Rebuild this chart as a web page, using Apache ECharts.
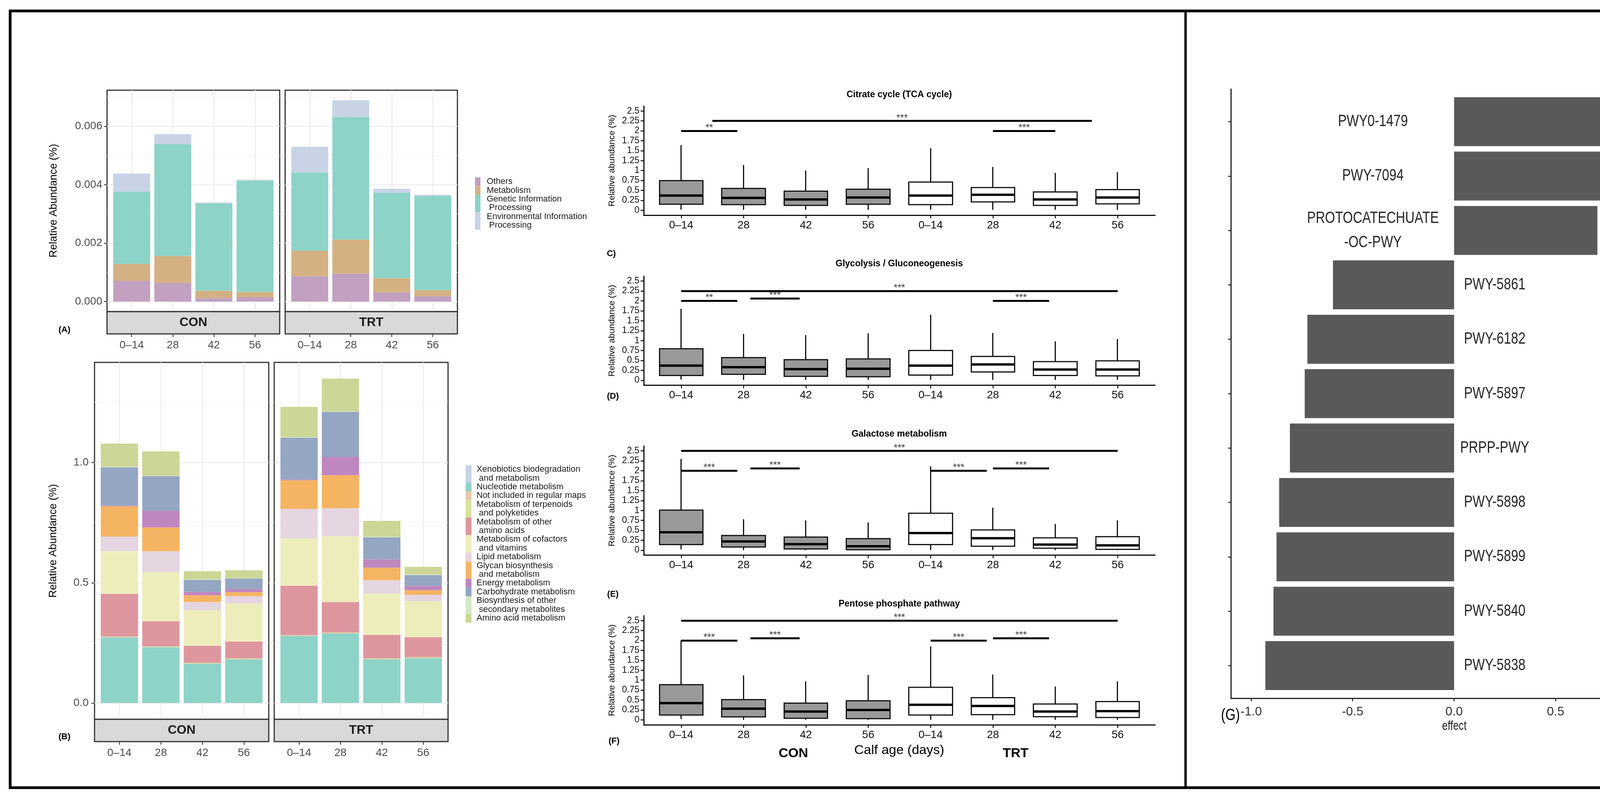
<!DOCTYPE html>
<html><head><meta charset="utf-8">
<script src="https://cdn.jsdelivr.net/npm/echarts@6/dist/echarts.min.js"></script>
<style>html,body{margin:0;padding:0;background:#fff}#c{width:4419px;height:2046px}</style>
</head><body><div id="c"></div>
<script>
// ================= DATA =================
const ageLabels = ['0–14', '28', '42', '56'];
const groupLabels = ['CON', 'TRT'];

// Panel A (values: CON 0-14,28,42,56 then TRT 0-14,28,42,56)
const aNames = ['Others', 'Metabolism', 'Genetic Information\n Processing', 'Environmental Information\n Processing'];
const aOthers        = [0.00071, 0.00064, 0.00012, 0.00015, 0.00086, 0.00096, 0.00031, 0.00018];
const aMetabolism    = [0.00058, 0.00092, 0.00025, 0.00018, 0.00088, 0.00116, 0.00049, 0.00021];
const aGenetic       = [0.00247, 0.00383, 0.00299, 0.00381, 0.00268, 0.00420, 0.00293, 0.00323];
const aEnvironmental = [0.00062, 0.00034, 0.00003, 0.00003, 0.00088, 0.00057, 0.00013, 0.00004];
const aYTicks = [0, 0.002, 0.004, 0.006];
const aYMinor = [0.001, 0.003, 0.005, 0.007];

// Panel B
const bNames = ['Xenobiotics biodegradation\n and metabolism', 'Nucleotide metabolism', 'Not included in regular maps',
  'Metabolism of terpenoids\n and polyketides', 'Metabolism of other\n amino acids', 'Metabolism of cofactors\n and vitamins',
  'Lipid metabolism', 'Glycan biosynthesis\n and metabolism', 'Energy metabolism', 'Carbohydrate metabolism',
  'Biosynthesis of other\n secondary metabolites', 'Amino acid metabolism'];
const bXenobiotics  = [0.001, 0.001, 0.001, 0.001, 0.001, 0.001, 0.001, 0.001];
const bNucleotide   = [0.272, 0.231, 0.163, 0.181, 0.277, 0.288, 0.181, 0.186];
const bNotIncluded  = [0.002, 0.002, 0.002, 0.002, 0.002, 0.002, 0.002, 0.002];
const bTerpenoids   = [0.002, 0.002, 0.002, 0.002, 0.002, 0.002, 0.002, 0.002];
const bOtherAmino   = [0.177, 0.104, 0.070, 0.070, 0.206, 0.127, 0.097, 0.083];
const bCofactors    = [0.177, 0.205, 0.148, 0.159, 0.197, 0.273, 0.171, 0.150];
const bLipid        = [0.061, 0.086, 0.034, 0.029, 0.122, 0.117, 0.057, 0.026];
const bGlycan       = [0.126, 0.099, 0.028, 0.017, 0.119, 0.137, 0.052, 0.019];
const bEnergy       = [0.003, 0.069, 0.014, 0.013, 0.003, 0.076, 0.034, 0.018];
const bCarbohydrate = [0.159, 0.144, 0.050, 0.044, 0.174, 0.187, 0.092, 0.045];
const bBiosynthesis = [0.002, 0.002, 0.002, 0.002, 0.002, 0.002, 0.002, 0.002];
const bAminoAcid    = [0.096, 0.101, 0.034, 0.032, 0.126, 0.136, 0.066, 0.032];
const bYTicks = [0, 0.5, 1.0];
const bYMinor = [0.25, 0.75, 1.25];

// Panels C-F box plots (8 boxes: CON 0-14..56, TRT 0-14..56)
const boxXLabels = ['0–14', '28', '42', '56', '0–14', '28', '42', '56'];
const boxYTicks = [0, 0.25, 0.5, 0.75, 1, 1.25, 1.5, 1.75, 2, 2.25, 2.5];
const boxTitles = ['Citrate cycle (TCA cycle)', 'Glycolysis / Gluconeogenesis', 'Galactose metabolism', 'Pentose phosphate pathway'];
const boxTags = ['C)', '(D)', '(E)', '(F)'];

const cMin = [0.015, 0.01, 0.01, 0.01, 0.01, 0.01, 0.01, 0.01];
const cQ1  = [0.15, 0.14, 0.12, 0.15, 0.14, 0.21, 0.12, 0.16];
const cMed = [0.37, 0.31, 0.27, 0.32, 0.37, 0.39, 0.27, 0.32];
const cQ3  = [0.745, 0.55, 0.48, 0.53, 0.71, 0.57, 0.46, 0.52];
const cMax = [1.64, 1.14, 1.00, 1.06, 1.56, 1.09, 0.94, 0.96];
const cSig = [[0, 0.9, 2.0, '**'], [0.5, 6.585, 2.25, '***'], [5, 6, 2.0, '***']];

const dMin = [0.02, 0.01, 0.01, 0.01, 0.01, 0.01, 0.01, 0.01];
const dQ1  = [0.12, 0.15, 0.10, 0.09, 0.13, 0.21, 0.12, 0.11];
const dMed = [0.37, 0.33, 0.28, 0.29, 0.37, 0.40, 0.27, 0.27];
const dQ3  = [0.795, 0.57, 0.52, 0.54, 0.75, 0.60, 0.47, 0.49];
const dMax = [1.80, 1.17, 1.14, 1.18, 1.65, 1.19, 0.98, 1.04];
const dSig = [[0, 0.9, 2.0, '**'], [1.11, 1.9, 2.06, '***'], [0, 7, 2.25, '***'], [5, 5.9, 2.0, '***']];

const eMin = [0.02, 0.0, 0.0, 0.0, 0.0, 0.0, 0.0, 0.0];
const eQ1  = [0.14, 0.08, 0.03, 0.01, 0.14, 0.10, 0.05, 0.02];
const eMed = [0.45, 0.22, 0.15, 0.10, 0.43, 0.30, 0.14, 0.12];
const eQ3  = [1.01, 0.37, 0.33, 0.29, 0.93, 0.51, 0.31, 0.34];
const eMax = [2.30, 0.78, 0.75, 0.70, 2.11, 1.07, 0.66, 0.75];
const eSig = [[0, 0.9, 2.0, '***'], [1.11, 1.9, 2.06, '***'], [0, 7, 2.5, '***'], [4, 4.9, 2.0, '***'], [5, 5.9, 2.06, '***']];

const fMin = [0.02, 0.0, 0.0, 0.0, 0.0, 0.0, 0.0, 0.0];
const fQ1  = [0.12, 0.075, 0.04, 0.03, 0.12, 0.13, 0.08, 0.06];
const fMed = [0.42, 0.28, 0.21, 0.25, 0.38, 0.35, 0.21, 0.22];
const fQ3  = [0.886, 0.51, 0.42, 0.48, 0.82, 0.56, 0.40, 0.46];
const fMax = [2.00, 1.12, 0.97, 1.13, 1.85, 1.14, 0.84, 0.97];
const fSig = [[0, 0.9, 2.0, '***'], [1.11, 1.9, 2.06, '***'], [0, 7, 2.5, '***'], [4, 4.9, 2.0, '***'], [5, 5.9, 2.06, '***']];

// Panel G
const gLabels = ['PWY0-1479', 'PWY-7094', 'PROTOCATECHUATE\n-OC-PWY', 'PWY-5861', 'PWY-6182', 'PWY-5897',
  'PRPP-PWY', 'PWY-5898', 'PWY-5899', 'PWY-5840', 'PWY-5838'];
const gEffect = [0.737, 0.733, 0.706, -0.597, -0.723, -0.736, -0.809, -0.862, -0.875, -0.890, -0.930];
const gXTicks = [-1, -0.5, 0, 0.5, 1];

// ================= STYLES =================
const aColors = ['#c1a0c0', '#d4b183', '#8dd3c7', '#c8d3e6'];
const bColors = ['#c8d3e6', '#8dd3c7', '#e6c9a8', '#d9e29b', '#de969e', '#ededbc', '#e5d5e0', '#f5b462',
  '#bf86bf', '#94a6c1', '#d5e9c3', '#ccd696'];
const FONT = "'Liberation Sans', Arial, Helvetica, sans-serif";
const NARROW = "'Liberation Sans Narrow', 'Arial Narrow', 'Liberation Sans', sans-serif";

// ================= BUILD =================
const grids = [], xAxis = [], yAxis = [], series = [], graphic = [];
const off = { axisLine: { show: false, onZero: false }, axisTick: { show: false }, axisLabel: { show: false }, splitLine: { show: false } };
function grid(l, t, w, h, extra) {
  grids.push(Object.assign({ left: l, top: t, width: w, height: h, containLabel: false, outerBoundsMode: 'none' }, extra || {}));
  return grids.length - 1;
}
function addX(o) { xAxis.push(o); return xAxis.length - 1; }
function addY(o) { yAxis.push(o); return yAxis.length - 1; }
function text(x, y, str, o) {
  o = o || {};
  graphic.push({ type: 'text', x: x, y: y, rotation: o.rotation || 0, scaleX: o.scaleX || 1, z: 50,
    style: { text: str, fontSize: o.size || 20, fontWeight: o.weight || 'normal', fontFamily: o.family || FONT,
      fill: o.color || '#000', align: o.align || 'center', verticalAlign: o.valign || 'middle', lineHeight: o.lineHeight } });
}
function rect(x, y, w, h, style, z) { graphic.push({ type: 'rect', shape: { x: x, y: y, width: w, height: h }, style: style, z: z || 40 }); }

function barFacet(p) {
  const unit = p.w / 4.2;
  const go = grid(p.l, p.t, p.w, p.h, { show: true, borderColor: '#333', borderWidth: 3, backgroundColor: '#fff' });
  const gi = grid(p.l + 0.1 * unit, p.t, 4 * unit, p.h);
  addX({ gridIndex: go, type: 'value', min: -0.6, max: 3.6, position: 'bottom', offset: p.strip,
    axisLine: { show: false, onZero: false },
    axisTick: { show: true, customValues: [0, 1, 2, 3], length: 8, lineStyle: { color: '#333', width: 2 } },
    axisLabel: { show: true, customValues: [0, 1, 2, 3], formatter: v => ageLabels[Math.round(v)], margin: 15, fontSize: 28, color: '#4d4d4d', fontFamily: FONT },
    splitLine: { show: true, lineStyle: { color: '#ebebeb', width: 2.5 } } });
  addY({ gridIndex: go, type: 'value', min: p.ymin, max: p.ymax,
    axisLine: { show: false, onZero: false },
    axisTick: { show: p.showY, customValues: p.major, length: 8, lineStyle: { color: '#333', width: 2 } },
    axisLabel: { show: p.showY, customValues: p.major, formatter: p.fmt, margin: p.margin, fontSize: 28, color: '#4d4d4d', fontFamily: FONT },
    splitLine: { show: true, lineStyle: { color: '#ebebeb', width: 2.5 } } });
  addY({ gridIndex: go, type: 'value', min: p.ymin, max: p.ymax,
    axisLine: { show: false, onZero: false },
    axisTick: { show: false, customValues: p.minor }, axisLabel: { show: false, customValues: p.minor },
    splitLine: { show: true, lineStyle: { color: '#f3f3f3', width: 1.5 } } });
  const xi = addX(Object.assign({ gridIndex: gi, type: 'category', data: ageLabels }, off));
  const yi = addY(Object.assign({ gridIndex: gi, type: 'value', min: p.ymin, max: p.ymax }, off));
  p.levels.forEach((arr, k) => series.push({ type: 'bar', name: p.names[k], xAxisIndex: xi, yAxisIndex: yi, stack: 'st' + gi,
    barWidth: '90%', data: arr.slice(p.offset, p.offset + 4), itemStyle: { color: p.colors[k] }, emphasis: { disabled: true } }));
  rect(p.l, p.t + p.h, p.w, p.strip, { fill: '#d9d9d9', stroke: '#333', lineWidth: 3 });
  text(p.l + p.w / 2, p.t + p.h + p.strip / 2, p.group, { size: 32, weight: 'bold', color: '#1a1a1a' });
}

function boxFacet(p) {
  const l = 1648, w = 1309, unit = w / 8.2;
  const go = grid(l, p.t, w, p.h);
  const gi = grid(l + 0.1 * unit, p.t, 8 * unit, p.h);
  const idx = [0, 1, 2, 3, 4, 5, 6, 7];
  const xo = addX({ gridIndex: go, type: 'value', min: -0.6, max: 7.6, position: 'bottom',
    axisLine: { show: true, onZero: false, lineStyle: { color: '#111', width: 3 } },
    axisTick: { show: true, customValues: idx, length: 8, lineStyle: { color: '#111', width: 2.5 } },
    axisLabel: { show: true, customValues: idx, formatter: v => boxXLabels[Math.round(v)], margin: 12, fontSize: 28, color: '#111', fontFamily: FONT },
    splitLine: { show: false } });
  const yo = addY({ gridIndex: go, type: 'value', min: -0.125, max: 2.625, position: 'left',
    axisLine: { show: true, onZero: false, lineStyle: { color: '#111', width: 3 } },
    axisTick: { show: true, customValues: boxYTicks, length: 8, lineStyle: { color: '#111', width: 2.5 } },
    axisLabel: { show: true, customValues: boxYTicks, formatter: v => String(Math.round(v * 100) / 100), margin: 11, fontSize: 23, color: '#111', fontFamily: FONT },
    splitLine: { show: false } });
  const xi = addX(Object.assign({ gridIndex: gi, type: 'category', data: idx.map(i => 'b' + i) }, off));
  const yi = addY(Object.assign({ gridIndex: gi, type: 'value', min: -0.125, max: 2.625 }, off));
  series.push({ type: 'candlestick', xAxisIndex: xi, yAxisIndex: yi, barWidth: 112,
    itemStyle: { borderWidth: 3 },
    data: idx.map(i => ({ value: [p.q1[i], p.q3[i], p.min[i], p.max[i]],
      itemStyle: { color: i < 4 ? '#999999' : '#ffffff', color0: i < 4 ? '#999999' : '#ffffff', borderColor: '#111', borderColor0: '#111', borderWidth: 3 } })),
    emphasis: { disabled: true } });
  series.push({ type: 'scatter', xAxisIndex: xo, yAxisIndex: yo, symbol: 'rect', symbolSize: [112, 6], z: 5,
    data: p.med.map((m, i) => [i, m]), itemStyle: { color: '#000', opacity: 1 }, emphasis: { disabled: true } });
  series.push({ type: 'lines', coordinateSystem: 'cartesian2d', xAxisIndex: xo, yAxisIndex: yo, z: 5,
    data: p.sig.map(s => ({ coords: [[s[0], s[2]], [s[1], s[2]]] })), lineStyle: { color: '#000', width: 5, opacity: 1 } });
  series.push({ type: 'scatter', xAxisIndex: xo, yAxisIndex: yo, symbolSize: 1, z: 6,
    itemStyle: { color: 'rgba(0,0,0,0)' },
    data: p.sig.map(s => ({ value: [(s[0] + s[1]) / 2, s[2]], name: s[3] })),
    label: { show: true, position: 'top', distance: -6, formatter: '{b}', fontSize: 25, color: '#000', fontFamily: FONT } });
  text(2302, p.titleY, p.title, { size: 23, weight: 'bold' });
  text(1567, p.t + p.h / 2, 'Relative abundance (%)', { size: 22, rotation: Math.PI / 2 });
  text(p.tagX, p.tagY, p.tag, { size: 22, weight: 'bold' });
}

// ---- Panel A ----
const aLevels = [aOthers, aMetabolism, aGenetic, aEnvironmental];
barFacet({ l: 274, t: 231, w: 442, h: 567, strip: 57, ymin: -0.000345, ymax: 0.007235, major: aYTicks, minor: aYMinor,
  fmt: v => v.toFixed(3), showY: true, margin: 12, levels: aLevels, names: aNames, colors: aColors, offset: 0, group: groupLabels[0] });
barFacet({ l: 730, t: 231, w: 441, h: 567, strip: 57, ymin: -0.000345, ymax: 0.007235, major: aYTicks, minor: aYMinor,
  fmt: v => v.toFixed(3), showY: false, margin: 12, levels: aLevels, names: aNames, colors: aColors, offset: 4, group: groupLabels[1] });
text(138, 514, 'Relative Abundance (%)', { size: 27, rotation: Math.PI / 2 });
text(165, 845, '(A)', { size: 22, weight: 'bold' });

// ---- Panel B ----
const bLevels = [bXenobiotics, bNucleotide, bNotIncluded, bTerpenoids, bOtherAmino, bCofactors, bLipid, bGlycan, bEnergy, bCarbohydrate, bBiosynthesis, bAminoAcid];
barFacet({ l: 242, t: 928, w: 446, h: 914, strip: 57, ymin: -0.0674, ymax: 1.4154, major: bYTicks, minor: bYMinor,
  fmt: v => v.toFixed(1), showY: true, margin: 15, levels: bLevels, names: bNames, colors: bColors, offset: 0, group: groupLabels[0] });
barFacet({ l: 702, t: 928, w: 445, h: 914, strip: 57, ymin: -0.0674, ymax: 1.4154, major: bYTicks, minor: bYMinor,
  fmt: v => v.toFixed(1), showY: false, margin: 15, levels: bLevels, names: bNames, colors: bColors, offset: 4, group: groupLabels[1] });
text(137, 1385, 'Relative Abundance (%)', { size: 27, rotation: Math.PI / 2 });
text(165, 1887, '(B)', { size: 22, weight: 'bold' });

// ---- Legends A / B ----
function legend(x, y, keyW, lineH, textX, names, colors, size) {
  let cy = y;
  names.forEach((nm, k) => {
    const lines = nm.split('\n');
    const h = lines.length * lineH;
    rect(x, cy, keyW, h, { fill: colors[k] }, 30);
    lines.forEach((ln, j) => text(textX, cy + (j + 0.5) * lineH, ln, { size: size, align: 'left', color: '#1a1a1a' }));
    cy += h;
  });
}
legend(1216, 454, 14, 22.4, 1246, aNames, aColors, 22);
legend(1192, 1191, 15, 22.4, 1220, bNames, bColors, 22);

// ---- Panels C-F ----
boxFacet({ t: 271.5, h: 279.5, min: cMin, q1: cQ1, med: cMed, q3: cQ3, max: cMax, sig: cSig, title: boxTitles[0], titleY: 243, tag: boxTags[0], tagX: 1565, tagY: 650 });
boxFacet({ t: 707, h: 279.5, min: dMin, q1: dQ1, med: dMed, q3: dQ3, max: dMax, sig: dSig, title: boxTitles[1], titleY: 676, tag: boxTags[1], tagX: 1569, tagY: 1015 });
boxFacet({ t: 1142, h: 279.5, min: eMin, q1: eQ1, med: eMed, q3: eQ3, max: eMax, sig: eSig, title: boxTitles[2], titleY: 1112, tag: boxTags[2], tagX: 1569, tagY: 1522 });
boxFacet({ t: 1576.5, h: 279.5, min: fMin, q1: fQ1, med: fMed, q3: fQ3, max: fMax, sig: fSig, title: boxTitles[3], titleY: 1547, tag: boxTags[3], tagX: 1572, tagY: 1898 });
text(2031, 1930, groupLabels[0], { size: 34, weight: 'bold' });
text(2302, 1922, 'Calf age (days)', { size: 34 });
text(2600, 1930, groupLabels[1], { size: 34, weight: 'bold' });

// ---- Panel G ----
(function () {
  const gl = 3151, gt = 228, gw = 1143, gh = 1560, unit = gh / 11.2;
  const go = grid(gl, gt, gw, gh);
  const gi = grid(gl, gt + 0.1 * unit, gw, 11 * unit);
  const rows = gLabels.map((_, i) => i);
  const xo = addX({ gridIndex: go, type: 'value', min: -1.1, max: 1.1, position: 'bottom',
    axisLine: { show: true, onZero: false, lineStyle: { color: '#222', width: 3 } },
    axisTick: { show: true, customValues: gXTicks, length: 8, lineStyle: { color: '#222', width: 2.5 } },
    axisLabel: { show: true, customValues: gXTicks, formatter: v => v.toFixed(1), margin: 19, fontSize: 32, color: '#333', fontFamily: NARROW },
    splitLine: { show: false } });
  const yo = addY({ gridIndex: go, type: 'value', min: -0.6, max: 10.6, inverse: true, position: 'left',
    axisLine: { show: true, onZero: false, lineStyle: { color: '#222', width: 3 } },
    axisTick: { show: true, customValues: rows, length: 7, lineStyle: { color: '#222', width: 2.5 } },
    axisLabel: { show: false, customValues: rows }, splitLine: { show: false } });
  const xi = addX(Object.assign({ gridIndex: gi, type: 'value', min: -1.1, max: 1.1 }, off));
  const yi = addY(Object.assign({ gridIndex: gi, type: 'category', inverse: true, data: gLabels }, off));
  series.push({ type: 'bar', xAxisIndex: xi, yAxisIndex: yi, barWidth: '90%', data: gEffect,
    itemStyle: { color: '#595959' }, emphasis: { disabled: true } });
  series.push({ type: 'custom', xAxisIndex: xo, yAxisIndex: yo, z: 10,
    data: gEffect.map((v, i) => [v > 0 ? -0.4 : 0.2, i]),
    renderItem: function (params, api) {
      const pt = api.coord([api.value(0), api.value(1)]);
      return { type: 'text', x: pt[0], y: pt[1], scaleX: 0.79,
        style: { text: gLabels[params.dataIndex], fontSize: 42, fontFamily: FONT, fill: '#262626', align: 'center', verticalAlign: 'middle', lineHeight: 62 } };
    } });
  text(3723, 1860, 'effect', { size: 34, scaleX: 0.76, color: '#222' });
  text(3150, 1832, '(G)', { size: 42, scaleX: 0.8 });
})();

// ---- Figure frame ----
graphic.push({ type: 'rect', shape: { x: 26, y: 28, width: 4362, height: 1989 }, style: { fill: 'none', stroke: '#000', lineWidth: 7 }, z: 60 });
graphic.push({ type: 'line', shape: { x1: 3035, y1: 28, x2: 3035, y2: 2017 }, style: { stroke: '#000', lineWidth: 6 }, z: 60 });

const chart = echarts.init(document.getElementById('c'), null, { renderer: 'canvas', width: 4419, height: 2046 });
chart.setOption({
  animation: false, backgroundColor: '#fff', textStyle: { fontFamily: FONT },
  grid: grids, xAxis: xAxis, yAxis: yAxis, series: series, graphic: { elements: graphic }
});
</script></body></html>
